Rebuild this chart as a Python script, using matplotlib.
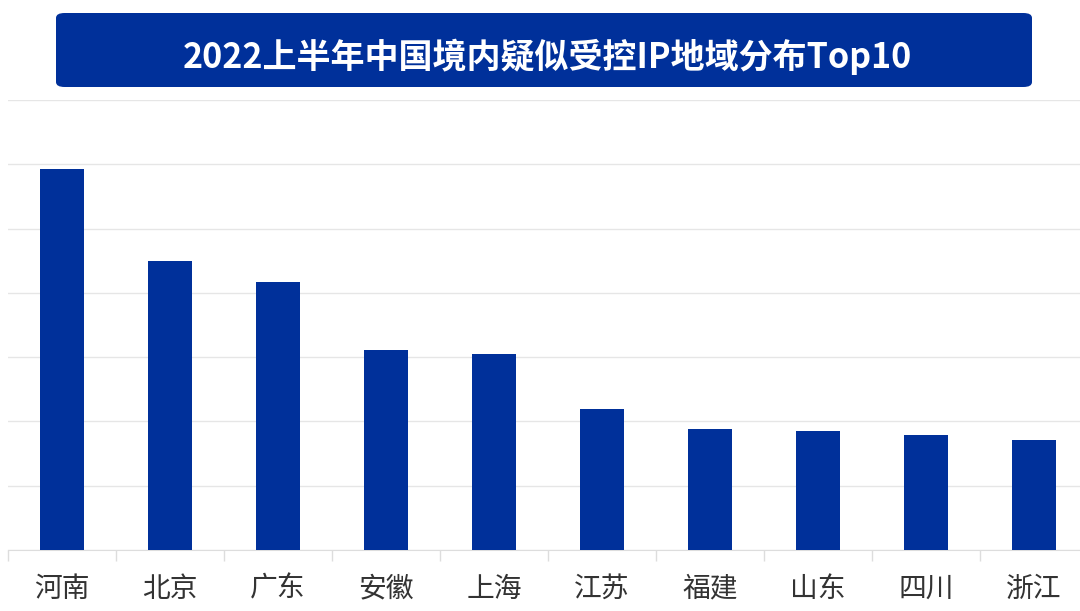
import matplotlib.pyplot as plt
from matplotlib.patches import FancyBboxPatch

plt.rcParams['font.family'] = ['Noto Sans CJK SC', 'DejaVu Sans']

# Data (in grid units)
provinces = ['河南', '北京', '广东', '安徽', '上海', '江苏', '福建', '山东', '四川', '浙江']
values = [5.93, 4.49, 4.17, 3.11, 3.05, 2.19, 1.88, 1.85, 1.79, 1.71]
title = '2022上半年中国境内疑似受控IP地域分布Top10'

blue = '#00309a'

fig = plt.figure(figsize=(10.8, 6.11), dpi=100)
ax = fig.add_axes([8 / 1080, 61 / 611, 1080 / 1080, 450 / 611])

x = range(len(provinces))
ax.bar(x, values, width=0.4, color=blue, zorder=3)

ax.set_xlim(-0.5, len(provinces) - 0.5)
ax.set_ylim(0, 7)
ax.set_yticks(range(0, 8))
ax.yaxis.grid(True, color='#e6e6e6', linewidth=1, zorder=0)
ax.tick_params(axis='y', left=False, labelleft=False)

ax.set_xticks(list(x))
ax.set_xticklabels(provinces, fontsize=20, color='#333333')
ax.tick_params(axis='x', length=0, pad=17)
ax.set_xticks([i - 0.5 for i in range(len(provinces) + 1)], minor=True)
ax.tick_params(axis='x', which='minor', length=8, color='#dddddd', width=1)

for side in ['top', 'right', 'left']:
    ax.spines[side].set_visible(False)
ax.spines['bottom'].set_color('#dddddd')

# Title box
box = FancyBboxPatch((56 / 1080, (611 - 87) / 611), 976 / 1080, 74 / 611,
                     boxstyle='round,pad=0,rounding_size=0.008',
                     transform=fig.transFigure, facecolor=blue, edgecolor='none')
fig.patches.append(box)
fig.text(547 / 1080, (611 - 57) / 611, title, ha='center', va='center',
         color='white', fontsize=24.5, fontweight='bold')

fig.savefig('out.png', dpi=100)
